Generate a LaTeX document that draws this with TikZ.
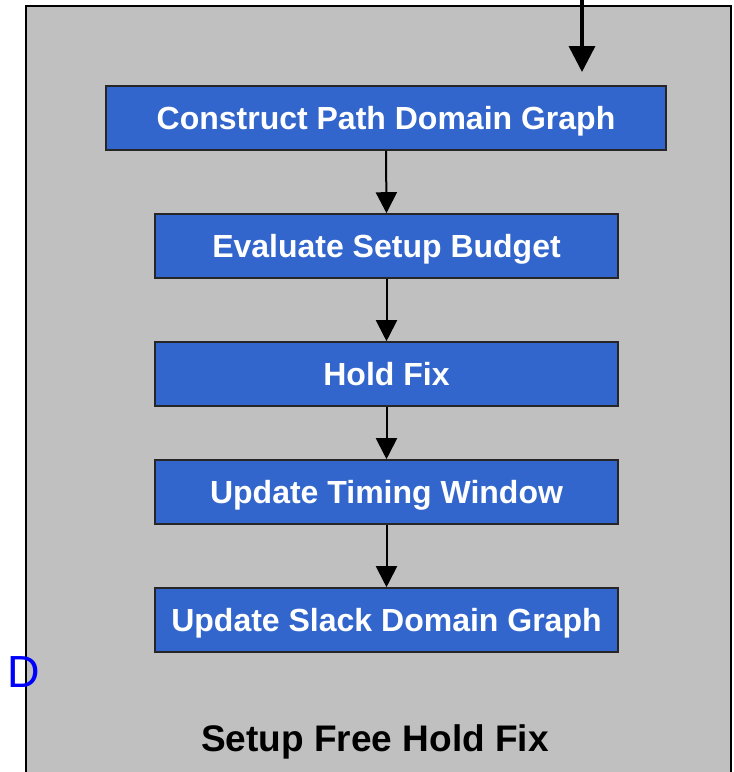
\documentclass[tikz,border=0pt]{standalone}
\usepackage{fontspec}
\setmainfont{Liberation Sans}
\usetikzlibrary{arrows.meta}
\definecolor{panelgrey}{HTML}{C0C0C0}
\definecolor{stepblue}{HTML}{3366CC}
\begin{document}
\begin{tikzpicture}[x=1pt,y=-1pt,
  stepbox/.style={draw=black!85,line width=1.6pt,fill=stepblue,text=white,
    font=\fontsize{32}{36}\selectfont\bfseries,minimum height=64pt,inner sep=0pt,
    text height=23pt,text depth=0pt},
  flow/.style={-{Triangle[width=21pt,length=21pt]},line width=2pt},
  entry/.style={-{Triangle[width=26pt,length=26pt]},line width=3.5pt}]
\useasboundingbox (0,0) rectangle (734,772);
% outer panel
\fill[panelgrey,draw=black,line width=2pt] (26,6) rectangle (731,790);
% process steps
\node[stepbox,minimum width=560pt] (s1) at (386,118) {Construct Path Domain Graph};
\node[stepbox,minimum width=463pt] (s2) at (386.5,246) {Evaluate Setup Budget};
\node[stepbox,minimum width=463pt] (s3) at (386.5,374) {Hold Fix};
\node[stepbox,minimum width=463pt] (s4) at (386.5,492) {Update Timing Window};
\node[stepbox,minimum width=463pt] (s5) at (386.5,620) {Update Slack Domain Graph};
% connectors
\draw[flow] (s1.south) -- (s2.north);
\draw[flow] (s2.south) -- (s3.north);
\draw[flow] (s3.south) -- (s4.north);
\draw[flow] (s4.south) -- (s5.north);
% entry arrow from above
\coordinate (in) at (582,-2);
\coordinate (inend) at (582,72);
\draw[entry] (in) -- (inend);
% labels
\node[font=\fontsize{37}{40}\selectfont\bfseries,inner sep=0pt,
  text height=26.5pt,text depth=0pt] (title) at (375,738) {Setup Free Hold Fix};
\node[text=blue,font=\fontsize{45}{50}\selectfont,inner sep=0pt,
  text height=32pt,text depth=0pt] (mark) at (23.5,671) {D};
\end{tikzpicture}
\end{document}
